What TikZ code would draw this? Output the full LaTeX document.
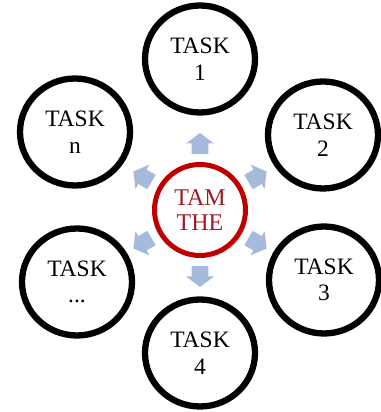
\documentclass[tikz,border=0pt]{standalone}
\usepackage{fontspec}
\setmainfont{Liberation Serif}
\usetikzlibrary{shapes.geometric}
\definecolor{arrowblue}{RGB}{166,187,220}
\definecolor{hubred}{RGB}{192,0,0}
\definecolor{hubtext}{RGB}{158,28,38}
\begin{document}
\begin{tikzpicture}[x=1pt,y=1pt,
  task/.style={draw=black, line width=6.3pt, ellipse, minimum width=110pt, minimum height=107pt,
    align=center, inner sep=0pt, font=\fontsize{23.5}{26.5}\selectfont},
  hub/.style={draw=hubred, line width=5pt, circle, minimum size=91pt, align=center,
    inner sep=0pt, text=hubtext, font=\fontsize{24}{24.5}\selectfont},
  blockarrow/.style={fill=arrowblue}]
\useasboundingbox (0,0) rectangle (380,412);
\node[hub] (hub) at (200,202) {TAM\\THE};
\node[task] (t1) at (200,353) {TASK\\1};
\node[task] (t2) at (323,277) {TASK\\2};
\node[task] (t3) at (324,132) {TASK\\3};
\node[task] (t4) at (200,59) {TASK\\4};
\node[task] (t5) at (77,130) {TASK\\...};
\node[task] (tn) at (75,280) {TASK\\n};
\begin{scope}[shift={(hub.center)}]
\foreach \a in {90,30,-30,-90,-150,150}{
  \fill[blockarrow, rotate=\a] (56,-8.3) -- (66.5,-8.3) -- (66.5,-14) -- (77,0)
    -- (66.5,14) -- (66.5,8.3) -- (56,8.3) -- cycle;
}
\end{scope}
\end{tikzpicture}
\end{document}
